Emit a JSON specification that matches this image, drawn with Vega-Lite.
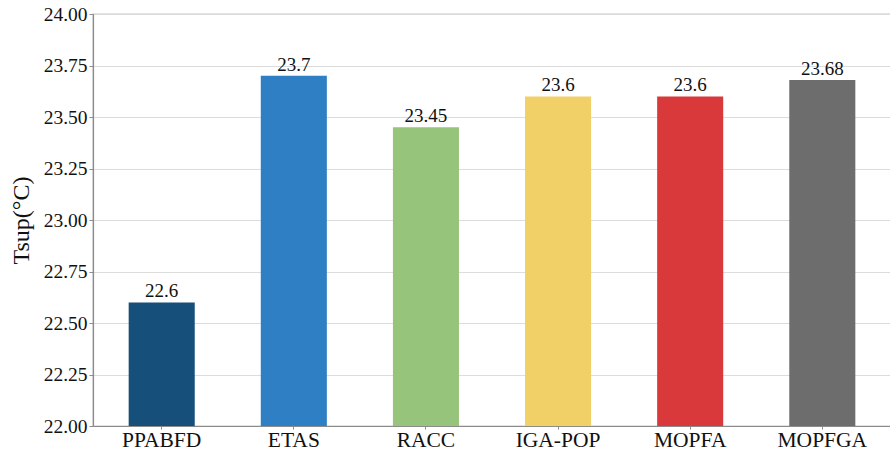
{
  "$schema": "https://vega.github.io/schema/vega-lite/v6.json",
  "autosize": "none",
  "width": 798,
  "height": 412,
  "padding": {"left": 93, "top": 14, "right": 0, "bottom": 24},
  "background": "white",
  "config": {
    "font": "Liberation Serif",
    "view": {"stroke": "#8c8c8c", "strokeWidth": 1.2}
  },
  "data": {
    "values": [
      {"method": "PPABFD", "value": 22.6, "label": "22.6"},
      {"method": "ETAS", "value": 23.7, "label": "23.7"},
      {"method": "RACC", "value": 23.45, "label": "23.45"},
      {"method": "IGA-POP", "value": 23.6, "label": "23.6"},
      {"method": "MOPFA", "value": 23.6, "label": "23.6"},
      {"method": "MOPFGA", "value": 23.68, "label": "23.68"}
    ]
  },
  "encoding": {
    "x": {
      "field": "method",
      "type": "nominal",
      "sort": null,
      "scale": {"paddingInner": 0.5, "paddingOuter": 0.27},
      "axis": {
        "title": null,
        "labelAngle": 0,
        "labelFont": "Liberation Serif",
        "labelFontSize": 21.5,
        "labelColor": "#111",
        "labelPadding": 0,
        "labelBaseline": "top",
        "tickSize": 3,
        "tickColor": "#8c8c8c",
        "domainColor": "#8c8c8c",
        "domainWidth": 1.2
      }
    },
    "y": {
      "field": "value",
      "type": "quantitative",
      "scale": {"domain": [22, 24], "zero": false, "nice": false},
      "axis": {
        "title": "Tsup(°C)",
        "titleFont": "Liberation Serif",
        "titleFontSize": 24,
        "titleFontWeight": "normal",
        "titleColor": "#111",
        "titlePadding": 10,
        "values": [22, 22.25, 22.5, 22.75, 23, 23.25, 23.5, 23.75, 24],
        "format": ".2f",
        "labelFont": "Liberation Serif",
        "labelFontSize": 19.5,
        "labelColor": "#111",
        "labelPadding": 2,
        "tickSize": 4,
        "tickColor": "#8c8c8c",
        "domainColor": "#8c8c8c",
        "domainWidth": 1.2,
        "grid": true,
        "gridColor": "#dcdcdc",
        "gridWidth": 1
      }
    }
  },
  "layer": [
    {
      "mark": {"type": "bar", "clip": true},
      "encoding": {
        "color": {
          "field": "method",
          "type": "nominal",
          "sort": null,
          "scale": {
            "domain": ["PPABFD", "ETAS", "RACC", "IGA-POP", "MOPFA", "MOPFGA"],
            "range": ["#154f7a", "#2e7fc4", "#96c47a", "#f2d068", "#d9393b", "#6d6d6d"]
          },
          "legend": null
        }
      }
    },
    {
      "mark": {"type": "text", "baseline": "bottom", "dy": -1, "fontSize": 19, "font": "Liberation Serif", "color": "#111"},
      "encoding": {"text": {"field": "label"}}
    }
  ]
}
